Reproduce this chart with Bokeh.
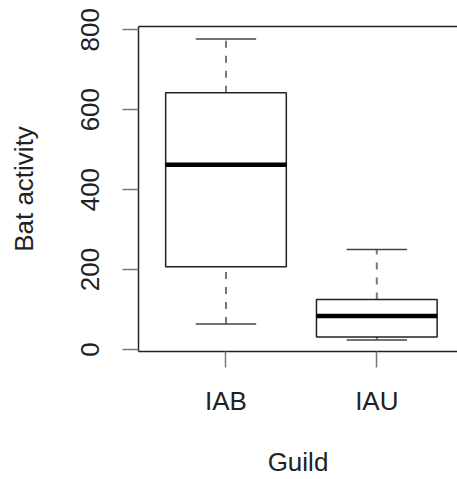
from bokeh.plotting import figure
from bokeh.models import Range1d, FixedTicker, LinearAxis
from bokeh.embed import file_html
from bokeh.resources import INLINE

# Data
categories = ["IAB", "IAU"]
lower_whisker = [64, 24]
q1 = [207, 31]
median = [462, 84]
q3 = [642, 125]
upper_whisker = [777, 250]
y_ticks = [0, 200, 400, 600, 800]

xs = [i + 1 for i in range(len(categories))]
box_w = 0.8
cap_w = 0.4

FONT = "Liberation Sans"
LINE = "#222222"

p = figure(width=457, height=479, output_backend="svg", toolbar_location=None,
           x_range=Range1d(0.42, 2.535), y_range=Range1d(-5, 808),
           min_border_left=138, min_border_top=26, min_border_bottom=128,
           min_border_right=0)
p.background_fill_color = "white"
p.border_fill_color = "white"
p.grid.visible = False
p.outline_line_color = None

# whiskers (dashed)
p.segment(x0=xs, x1=xs, y0=q3, y1=upper_whisker, line_color="#777777",
          line_width=2, line_dash="7 8")
p.segment(x0=xs, x1=xs, y0=lower_whisker, y1=q1, line_color="#777777",
          line_width=2, line_dash="7 8")
# caps
p.segment(x0=[x - cap_w / 2 for x in xs], x1=[x + cap_w / 2 for x in xs],
          y0=upper_whisker, y1=upper_whisker, line_color="#444444", line_width=1.5)
p.segment(x0=[x - cap_w / 2 for x in xs], x1=[x + cap_w / 2 for x in xs],
          y0=lower_whisker, y1=lower_whisker, line_color="#444444", line_width=1.5)
# boxes
p.vbar(x=xs, width=box_w, bottom=q1, top=q3, fill_color="white",
       line_color=LINE, line_width=1.5)
# medians
p.segment(x0=[x - box_w / 2 for x in xs], x1=[x + box_w / 2 for x in xs],
          y0=median, y1=median, line_color="black", line_width=4.5)

# x axis
xa = p.xaxis[0]
xa.ticker = FixedTicker(ticks=xs)
xa.major_label_overrides = {x: c for x, c in zip(xs, categories)}
xa.axis_label = "Guild"
# y axis
ya = p.yaxis[0]
ya.ticker = FixedTicker(ticks=y_ticks)
ya.axis_label = "Bat activity"
ya.major_label_orientation = "vertical"

for ax in (xa, ya):
    ax.axis_line_color = LINE
    ax.axis_line_width = 1.5
    ax.major_tick_line_color = "#777777"
    ax.major_tick_line_width = 1.5
    ax.major_tick_in = 0
    ax.major_tick_out = 16
    ax.minor_tick_line_color = None
    ax.major_label_text_font = FONT
    ax.major_label_text_font_size = "26px"
    ax.major_label_text_color = "#222222"
    ax.axis_label_text_font = FONT
    ax.axis_label_text_font_size = "26px"
    ax.axis_label_text_font_style = "normal"
    ax.axis_label_text_color = "#222222"

xa.major_label_standoff = 18
xa.axis_label_standoff = 28
ya.major_label_standoff = 23
ya.axis_label_standoff = 40

# top border of the plotting box (right side falls outside the picture)
top = LinearAxis(ticker=FixedTicker(ticks=[]), axis_line_color=LINE,
                 axis_line_width=1.5, major_tick_line_color=None,
                 minor_tick_line_color=None, major_label_text_font_size="0px")
p.add_layout(top, "above")

open("out.html", "w").write(file_html(p, INLINE))
